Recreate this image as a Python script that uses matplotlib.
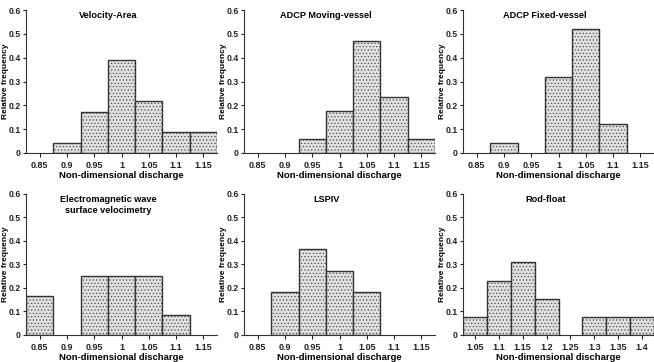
import matplotlib
matplotlib.use("Agg")
import matplotlib.pyplot as plt
import numpy as np

plt.rcParams['font.family'] = ['Liberation Sans', 'DejaVu Sans']
plt.rcParams['font.weight'] = 'bold'
plt.rcParams['hatch.color'] = '#c2c2c2'
plt.rcParams['hatch.linewidth'] = 0.4

titles = ["Velocity-Area", "ADCP Moving-vessel", "ADCP Fixed-vessel",
          "Electromagnetic wave\nsurface velocimetry", "LSPIV", "Rod-float"]

va_bins = [0.90, 0.95, 1.00, 1.05, 1.10, 1.15]
va_freq = [0.043, 0.174, 0.391, 0.217, 0.087, 0.087]

mv_bins = [0.95, 1.00, 1.05, 1.10, 1.15]
mv_freq = [0.059, 0.176, 0.471, 0.235, 0.059]

fv_bins = [0.90, 1.00, 1.05, 1.10]
fv_freq = [0.04, 0.32, 0.52, 0.12]

em_bins = [0.85, 0.95, 1.00, 1.05, 1.10]
em_freq = [0.167, 0.25, 0.25, 0.25, 0.083]

ls_bins = [0.90, 0.95, 1.00, 1.05]
ls_freq = [0.182, 0.364, 0.273, 0.182]

rf_bins = [1.05, 1.10, 1.15, 1.20, 1.30, 1.35, 1.40]
rf_freq = [0.077, 0.231, 0.308, 0.154, 0.077, 0.077, 0.077]

ticks_a = [0.85, 0.9, 0.95, 1.0, 1.05, 1.1, 1.15]
ticklabels_a = ["0.85", "0.9", "0.95", "1", "1.05", "1.1", "1.15"]
ticks_rf = [1.05, 1.1, 1.15, 1.2, 1.25, 1.3, 1.35, 1.4]
ticklabels_rf = ["1.05", "1.1", "1.15", "1.2", "1.25", "1.3", "1.35", "1.4"]
yticks = [0, 0.1, 0.2, 0.3, 0.4, 0.5, 0.6]
yticklabels = ["0", "0.1", "0.2", "0.3", "0.4", "0.5", "0.6"]

W, H = 654, 362
fig = plt.figure(figsize=(W / 100, H / 100), dpi=100)

lefts = [26, 244, 463]
width = 191
rows = [(10, 153), (193.7, 335)]

panels = [
    (va_bins, va_freq, ticks_a, ticklabels_a, (0.825, 1.175)),
    (mv_bins, mv_freq, ticks_a, ticklabels_a, (0.825, 1.175)),
    (fv_bins, fv_freq, ticks_a, ticklabels_a, (0.825, 1.175)),
    (em_bins, em_freq, ticks_a, ticklabels_a, (0.825, 1.175)),
    (ls_bins, ls_freq, ticks_a, ticklabels_a, (0.825, 1.175)),
    (rf_bins, rf_freq, ticks_rf, ticklabels_rf, (1.025, 1.425)),
]

for i, (bins, freq, xt, xtl, xl) in enumerate(panels):
    r, c = divmod(i, 3)
    top, bot = rows[r]
    ax = fig.add_axes([lefts[c] / W, 1 - bot / H, width / W, (bot - top) / H])
    ax.bar(bins, freq, width=0.05, facecolor='#e0e0e0', edgecolor='#333333',
           linewidth=1.0, hatch='.....', zorder=2)
    ax.set_xlim(*xl)
    ax.set_ylim(0, 0.6)
    ax.set_xticks(xt)
    ax.set_xticklabels(xtl)
    ax.set_yticks(yticks)
    ax.set_yticklabels(yticklabels)
    for s in ['top', 'right']:
        ax.spines[s].set_visible(False)
    for s in ['left', 'bottom']:
        ax.spines[s].set_linewidth(0.8)
        ax.spines[s].set_color('#333333')
    ax.tick_params(axis='x', labelsize=6.5, length=3, width=0.8, pad=2.5,
                   colors='#222222')
    ax.tick_params(axis='y', labelsize=6.2, length=2.5, width=0.8, pad=1.5,
                   colors='#222222')
    ax.set_xlabel("Non-dimensional discharge", fontsize=6.8, fontweight='bold',
                  labelpad=1)
    ax.set_ylabel("Relative frequency", fontsize=6.0, fontweight='bold')
    ax.yaxis.set_label_coords(-17 / width, 0.5)
    ax.text(0.43, 0.99, titles[i], transform=ax.transAxes, ha='center',
            va='top', fontsize=6.6, fontweight='bold', linespacing=1.25)

fig.savefig("out.png", dpi=100)
